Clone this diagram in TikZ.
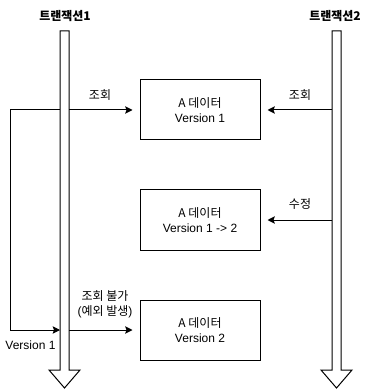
\documentclass[tikz,border=0pt]{standalone}
\usepackage{fontspec}
\setmainfont{Liberation Sans}
\newfontfamily\krfont{Noto Sans CJK KR}
\usetikzlibrary{arrows.meta,positioning}

\newcommand{\kr}[1]{{\krfont #1}}

\begin{document}
\begin{tikzpicture}[
x=0.75pt,y=-0.75pt,
lane/.style={draw,line width=0.75pt,fill=white},
box/.style={rectangle,draw,line width=0.75pt,minimum width=90pt,minimum height=45pt,align=center,font=\fontsize{9}{11}\selectfont},
arr/.style={-{Stealth[length=5.5pt,width=5.5pt,inset=1pt]},line width=0.75pt},
lbl/.style={font=\fontsize{9}{11}\selectfont,inner sep=1pt,align=center},
head/.style={font=\krfont\bfseries\fontsize{9}{11}\selectfont}
]
\useasboundingbox (0,0) rectangle (371,391);

% transaction headers
\node[head] (t1) at (65,16) {트랜잭션1};
\node[head] (t2) at (335,16) {트랜잭션2};

% time lanes
\draw[lane] (60,31) -- (60,370) -- (49,370) -- (64.5,388) -- (80,370) -- (69,370) -- (69,31) -- cycle;
\draw[lane] (332,31) -- (332,370) -- (321,370) -- (336.5,388) -- (352,370) -- (341,370) -- (341,31) -- cycle;

% data states
\node[box] (v1) at (200,110) {\kr{A 데이터}\\Version 1};
\node[box] (v2) at (200,220) {\kr{A 데이터}\\Version 1 -> 2};
\node[box] (v3) at (200,330) {\kr{A 데이터}\\Version 2};

% points on the lanes
\coordinate (r1) at (69,110);
\coordinate (r3) at (69,330);
\coordinate (s1) at (332,110);
\coordinate (s2) at (332,220);
\coordinate (back) at (60,110);
\coordinate (keep) at (60,330);

\draw[arr,shorten >=5.25pt] (r1) -- (v1.west);
\draw[arr,shorten >=5.25pt] (s1) -- (v1.east);
\draw[arr,shorten >=5.25pt] (s2) -- (v2.east);
\draw[arr,shorten >=5.25pt] (r3) -- (v3.west);
\draw[arr] (back) -- ++(-50,0) |- (keep);

\node[lbl] (q1) at (100,95) {\kr{조회}};
\node[lbl] (q2) at (300,95) {\kr{조회}};
\node[lbl] (u2) at (300,204) {\kr{수정}};
\node[lbl] (q3) at (105,304.5) {\kr{조회 불가}\\(\kr{예외 발생})};
\node[lbl] (cached) at (30.5,345) {Version 1};
\end{tikzpicture}
\end{document}
